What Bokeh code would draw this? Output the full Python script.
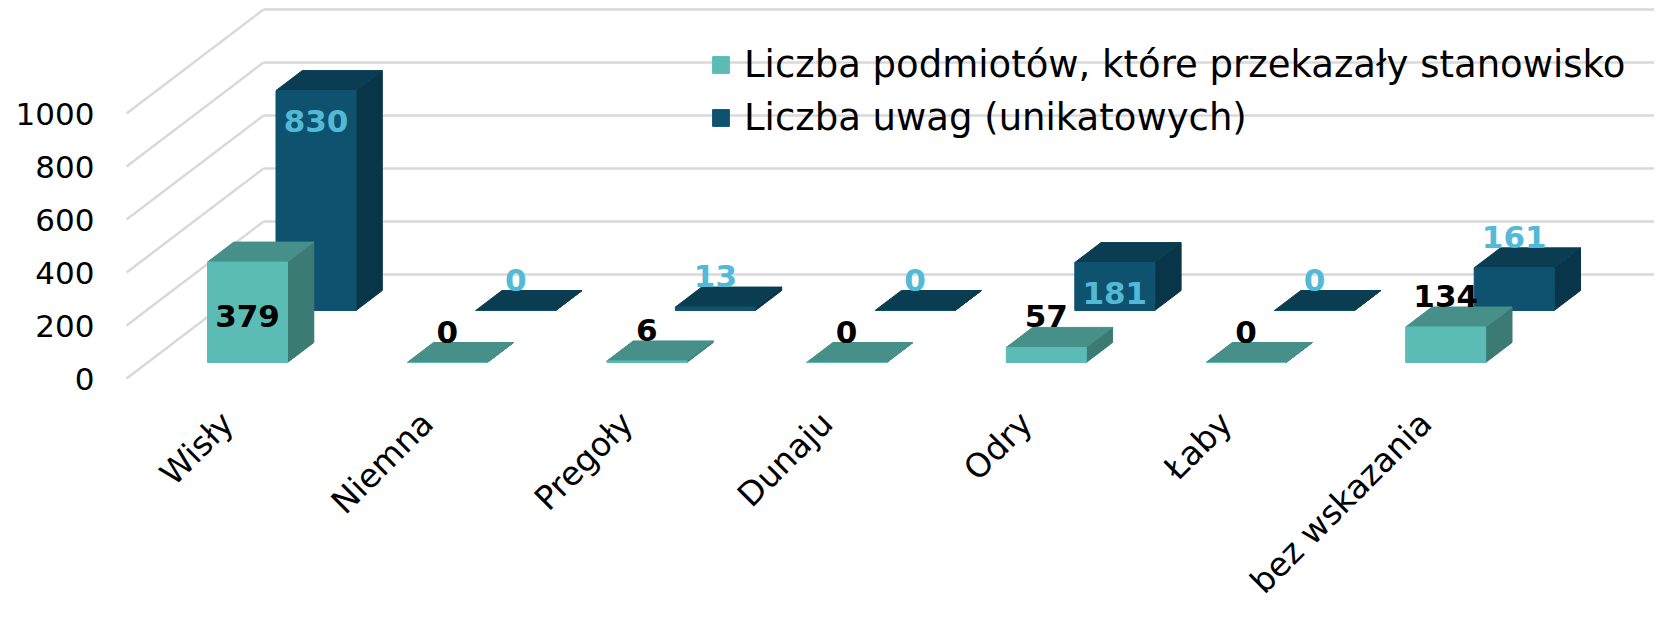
import numpy as np
from bokeh.plotting import figure
from bokeh.models import Range1d, FixedTicker, Legend, LegendItem, ColumnDataSource
from bokeh.core.properties import value
from bokeh.embed import file_html
from bokeh.resources import INLINE

# ---------------- data ----------------
categories = ["Wisły", "Niemna", "Pregoły", "Dunaju", "Odry", "Łaby", "bez wskazania"]
podmioty = [379, 0, 6, 0, 57, 0, 134]
uwagi = [830, 0, 13, 0, 181, 0, 161]
y_ticks = [0, 200, 400, 600, 800, 1000]
series_names = ["Liczba podmiotów, które przekazały stanowisko", "Liczba uwag (unikatowych)"]
podmioty_label_mode = ["center", "above", "above", "above", "above", "above", "above"]
uwagi_label_mode = ["inside", "above", "above", "above", "inside", "above", "above"]

# ---------------- geometry / style ----------------
W, H = 1654, 604
LEFT = 108
SX = 199.7          # px per category
SY = 0.265          # px per value unit
X0_CANVAS = 247     # canvas x of first front-row bar centre
Y0_CANVAS = 378     # canvas y of value 0 on the front plane
DX = 137.0 / SX     # x shift per unit of depth
DY = 104.0 / SY     # value shift per unit of depth
T_FRONT = (0.154, 0.346)
T_BACK = (0.654, 0.846)
C0 = -DX * T_FRONT[0]
HW = 40.0 / SX

TEAL = dict(front="#5BBCB6", top="#478F89", side="#3B7B74")
NAVY = dict(front="#0F526F", top="#0B3D52", side="#093548")
GRID = "#D9D9D9"
LBL_BLUE = "#52BAD6"
FONT = "DejaVu Sans"

x_range = Range1d((LEFT - X0_CANVAS) / SX, (W - X0_CANVAS) / SX)
y_range = Range1d(-(H - Y0_CANVAS) / SY, Y0_CANVAS / SY)

p = figure(width=W, height=H, x_range=x_range, y_range=y_range,
           output_backend="svg", toolbar_location=None,
           x_axis_location=None, y_axis_location="left",
           min_border_left=LEFT, min_border_right=0, min_border_top=0, min_border_bottom=0,
           outline_line_color=None, background_fill_color="white", border_fill_color="white")
p.grid.visible = False

ax = p.yaxis[0]
ax.ticker = FixedTicker(ticks=y_ticks)
ax.axis_line_color = None
ax.major_tick_line_color = None
ax.minor_tick_line_color = None
ax.major_tick_out = 0
ax.major_tick_in = 0
ax.major_label_standoff = 14
ax.major_label_text_font = FONT
ax.major_label_text_font_size = "31px"
ax.major_label_text_color = "black"

# ---------------- walls ----------------
n = len(categories)
wall_l = -0.5 + C0
wall_r = (n - 0.5) + C0
back_xs = [[wall_l + DX, wall_r + DX] for v in y_ticks]
back_ys = [[v + DY, v + DY] for v in y_ticks]
side_xs = [[wall_l, wall_l + DX] for v in y_ticks]
side_ys = [[v, v + DY] for v in y_ticks]
p.multi_line(back_xs, back_ys, line_color=GRID, line_width=2.5)
p.multi_line(side_xs, side_ys, line_color=GRID, line_width=2.5)


def bar_row(vals, tf, tb, col):
    xs_c = np.arange(len(vals)) + C0
    v = np.array(vals, dtype=float)
    l_f = xs_c - HW + DX * tf
    r_f = xs_c + HW + DX * tf
    l_b = xs_c - HW + DX * tb
    r_b = xs_c + HW + DX * tb
    side_x = [[r_f[i], r_b[i], r_b[i], r_f[i]] for i in range(len(v))]
    side_y = [[DY * tf, DY * tb, v[i] + DY * tb, v[i] + DY * tf] for i in range(len(v))]
    top_x = [[l_f[i], r_f[i], r_b[i], l_b[i]] for i in range(len(v))]
    top_y = [[v[i] + DY * tf, v[i] + DY * tf, v[i] + DY * tb, v[i] + DY * tb] for i in range(len(v))]
    p.patches(side_x, side_y, fill_color=col["side"], line_color=col["side"], line_width=1)
    p.patches(top_x, top_y, fill_color=col["top"], line_color=col["top"], line_width=1)
    front = p.quad(left=l_f, right=r_f, bottom=np.full(len(v), DY * tf), top=v + DY * tf,
                   fill_color=col["front"], line_color=col["front"], line_width=1)
    return front


navy_front = bar_row(uwagi, T_BACK[0], T_BACK[1], NAVY)
teal_front = bar_row(podmioty, T_FRONT[0], T_FRONT[1], TEAL)


def labels(vals, modes, tf, tb, color):
    xs, ys, txt = [], [], []
    for i, (v, m) in enumerate(zip(vals, modes)):
        xc = i + C0 + DX * tf
        if m == "center":
            y = v / 2 + DY * tf - 4 / SY
        elif m == "inside":
            y = v + DY * tf - 30 / SY
        else:
            y = v + DY * tb + 11 / SY
        xs.append(xc)
        ys.append(y)
        txt.append(str(v))
    src = ColumnDataSource(dict(x=xs, y=ys, t=txt))
    p.text("x", "y", text="t", source=src, text_align="center", text_baseline="middle",
           text_font=value(FONT), text_font_style="bold", text_font_size="31px",
           text_color=color)


labels(podmioty, podmioty_label_mode, T_FRONT[0], T_FRONT[1], "black")
labels(uwagi, uwagi_label_mode, T_BACK[0], T_BACK[1], LBL_BLUE)

# category labels (rotated 45 degrees, right end near each category)
cat_src = ColumnDataSource(dict(x=[i - 20 / SX for i in range(n)],
                                y=[-39 / SY] * n, t=categories))
p.text("x", "y", text="t", source=cat_src, angle=np.pi / 4, text_align="right",
       text_baseline="middle", text_font=value(FONT), text_font_size="33px",
       text_color="black")

legend = Legend(items=[LegendItem(label=series_names[0], renderers=[teal_front]),
                       LegendItem(label=series_names[1], renderers=[navy_front])],
                location=(602, 460), orientation="vertical",
                glyph_width=21, glyph_height=21, label_standoff=13,
                label_text_font=FONT, label_text_font_size="37px", label_height=53,
                label_text_color="black",
                spacing=0, padding=0, margin=0, border_line_color=None,
                background_fill_alpha=0)
p.add_layout(legend)

open("out.html", "w").write(file_html(p, INLINE))
